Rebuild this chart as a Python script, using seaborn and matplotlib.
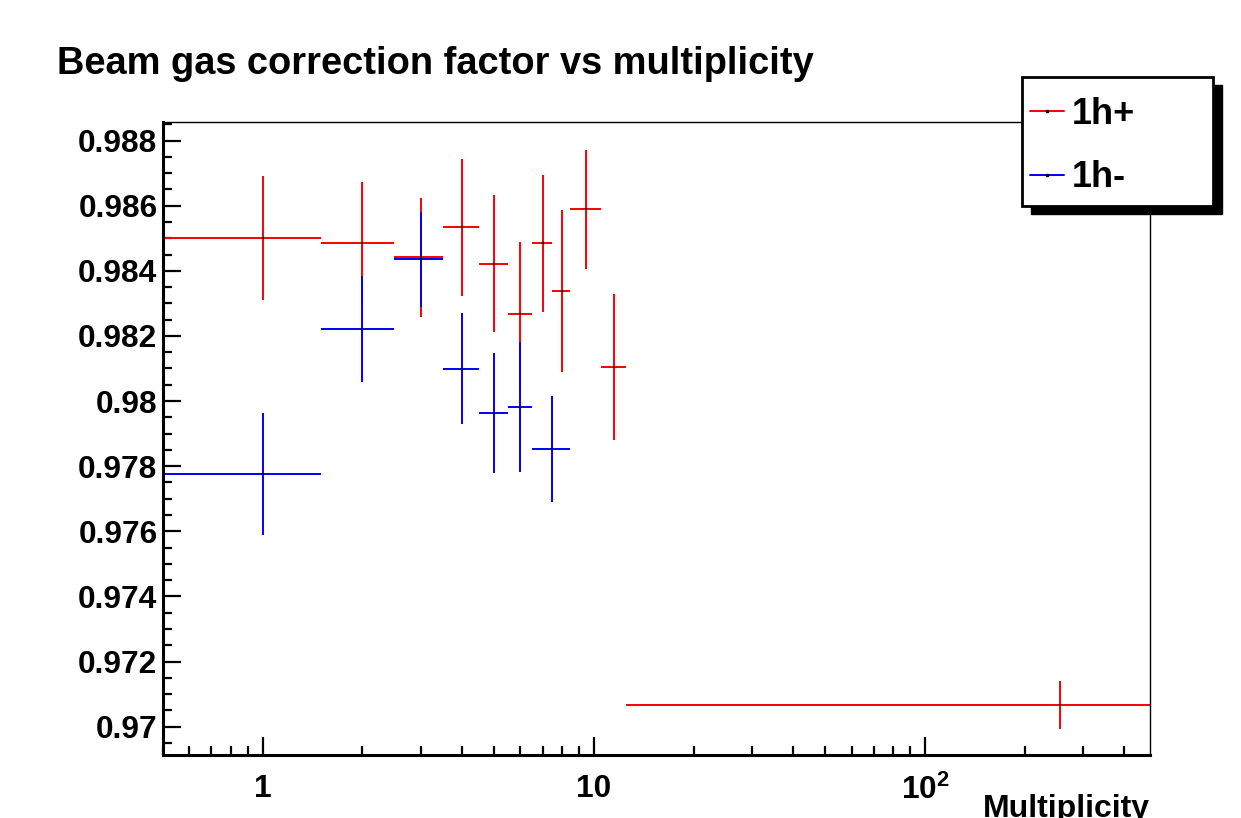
import numpy as np
import pandas as pd
import seaborn as sns
import matplotlib.pyplot as plt
from matplotlib.lines import Line2D
from matplotlib.patches import Rectangle
from matplotlib.ticker import (MultipleLocator, FuncFormatter, FixedLocator,
                               FixedFormatter, LogLocator, NullFormatter)

# 1h+ : bin edges, value, error
pos_lo = [0.5, 1.5, 2.5, 3.5, 4.5, 5.5, 6.5, 7.5, 8.5, 10.5, 12.5]
pos_hi = [1.5, 2.5, 3.5, 4.5, 5.5, 6.5, 7.5, 8.5, 10.5, 12.5, 500]
pos_val = [0.98500, 0.98484, 0.98442, 0.98534, 0.98422, 0.98267,
           0.98484, 0.98338, 0.98589, 0.98104, 0.97067]
pos_err = [0.00191, 0.00190, 0.00183, 0.00210, 0.00211, 0.00223,
           0.00211, 0.00250, 0.00183, 0.00225, 0.00074]

# 1h- : bin edges, value, error
neg_lo = [0.5, 1.5, 2.5, 3.5, 4.5, 5.5, 6.5]
neg_hi = [1.5, 2.5, 3.5, 4.5, 5.5, 6.5, 8.5]
neg_val = [0.97776, 0.98221, 0.98436, 0.98099, 0.97964, 0.97982, 0.97853]
neg_err = [0.00187, 0.00162, 0.00146, 0.00171, 0.00185, 0.00200, 0.00163]

series = ['1h+', '1h-']
colors = ['red', 'blue']
x_ticks = [1, 10, 100]
x_tick_labels = ['1', '10', r'$\mathbf{10^{2}}$']

df = pd.concat([
    pd.DataFrame({'series': '1h+', 'lo': pos_lo, 'hi': pos_hi, 'val': pos_val, 'err': pos_err}),
    pd.DataFrame({'series': '1h-', 'lo': neg_lo, 'hi': neg_hi, 'val': neg_val, 'err': neg_err}),
], ignore_index=True)
df['x'] = (df['lo'] + df['hi']) / 2

sns.set_theme(style='ticks')
plt.rcParams['font.family'] = ['Liberation Sans', 'DejaVu Sans']
plt.rcParams['font.weight'] = 'bold'
plt.rcParams['text.color'] = 'black'
plt.rcParams['axes.labelcolor'] = 'black'
plt.rcParams['mathtext.fontset'] = 'custom'
plt.rcParams['mathtext.rm'] = 'Liberation Sans:bold'
plt.rcParams['mathtext.bf'] = 'Liberation Sans:bold'

fig = plt.figure(figsize=(12.41, 8.18), dpi=100)
fig.patch.set_facecolor('white')
ax = fig.add_axes([163 / 1241, 1 - 755 / 818, 987 / 1241, 633 / 818])
ax.set_facecolor('white')

for name, col in zip(series, colors):
    d = df[df['series'] == name]
    ax.errorbar(d['x'], d['val'], xerr=[d['x'] - d['lo'], d['hi'] - d['x']],
                yerr=d['err'], fmt='none', ecolor=col, elinewidth=1.4, capsize=0)

sns.scatterplot(data=df, x='x', y='val', color='black', s=3, marker='s',
                linewidth=0, ax=ax, legend=False, zorder=5)

ax.set_xscale('log')
ax.set_xlim(0.5, 478)
ax.set_ylim(0.96913, 0.98857)

ax.xaxis.set_major_locator(FixedLocator(x_ticks))
ax.xaxis.set_major_formatter(FixedFormatter(x_tick_labels))
ax.xaxis.set_minor_locator(LogLocator(base=10, subs=np.arange(2, 10)))
ax.xaxis.set_minor_formatter(NullFormatter())
ax.yaxis.set_major_locator(MultipleLocator(0.002))
ax.yaxis.set_minor_locator(MultipleLocator(0.0005))
ax.yaxis.set_major_formatter(FuncFormatter(lambda v, p: f"{v:g}"))

ax.tick_params(which='both', direction='in', top=False, right=False,
               width=1.6, color='black', labelsize=22.8, labelcolor='black')
ax.tick_params(which='major', length=13)
ax.tick_params(which='minor', length=6.5)
ax.tick_params(axis='x', which='major', pad=14)
ax.tick_params(axis='y', which='major', pad=4)

for side in ['left', 'bottom']:
    ax.spines[side].set_linewidth(2.2)
    ax.spines[side].set_color('black')
for side in ['top', 'right']:
    ax.spines[side].set_linewidth(1.0)
    ax.spines[side].set_color('black')
    ax.spines[side].set_visible(True)

ax.set_ylabel('')
ax.set_xlabel('Multiplicity', fontsize=23, fontweight='bold', loc='right', color='black')
ax.xaxis.set_label_coords(1.0, -0.062)

fig.text(57 / 1241, 1 - 73.5 / 818, 'Beam gas correction factor vs multiplicity',
         fontsize=27.4, fontweight='bold', ha='left', va='baseline', color='black')

# legend box with ROOT-style shadow
bx, by, bw, bh = 1022 / 1241, 1 - 206 / 818, 191 / 1241, 129 / 818
fig.add_artist(Rectangle((bx + 9 / 1241, by - 8 / 818), bw, bh, transform=fig.transFigure,
                         facecolor='black', edgecolor='black', zorder=10))
fig.add_artist(Rectangle((bx, by), bw, bh, transform=fig.transFigure,
                         facecolor='white', edgecolor='black', linewidth=2, zorder=11))
handles = [Line2D([], [], color=c, lw=1.4, marker='s', markersize=1.5,
                  markerfacecolor='black', markeredgecolor='black') for c in colors]
leg = fig.legend(handles, series, loc='center left', bbox_to_anchor=(1030 / 1241, 1 - 146 / 818),
                 frameon=False, fontsize=26, handlelength=0.95, handletextpad=0.22,
                 labelspacing=0.8, borderpad=0, borderaxespad=0)
leg.set_zorder(12)
for t in leg.get_texts():
    t.set_color('black')

fig.savefig('out.png', dpi=100, facecolor='white')
